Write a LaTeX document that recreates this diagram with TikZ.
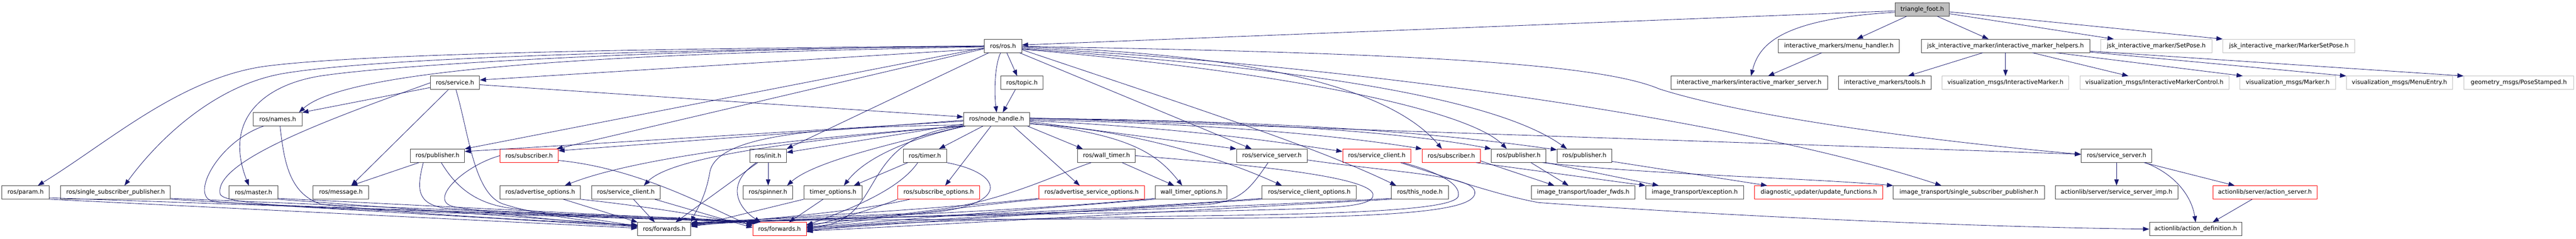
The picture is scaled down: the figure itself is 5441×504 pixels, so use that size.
\documentclass[tikz,border=0pt]{standalone}
\usepackage{fontspec}
\setmainfont{DejaVu Sans}
\usetikzlibrary{arrows.meta}
\definecolor{edgec}{HTML}{191970}
\definecolor{boxc}{HTML}{404040}
\definecolor{extc}{HTML}{BFBFBF}
\newcommand\nodefont{\fontsize{12.6}{14}\selectfont}
\begin{document}
\begin{tikzpicture}[x=1pt,y=-1pt,
  box/.style={draw=boxc, line width=1pt, minimum height=28pt, inner sep=0pt, font=\nodefont, text=black},
  redbox/.style={box, draw=red},
  extbox/.style={box, draw=extc},
  rootbox/.style={box, fill=extc},
  e/.style={draw=edgec, line width=0.9pt, -{Triangle[length=13pt,width=9.5pt]}}]
\useasboundingbox (0,0) rectangle (5441,504);
\fill[white] (0,0) rectangle (5441,504);
% row 0
\node[rootbox, minimum width=114pt] (n0) at (4060,20) {triangle\_foot.h};
% row 1
\node[box, minimum width=79pt] (n1) at (2118.5,97) {ros/ros.h};
\node[box, minimum width=256pt] (n2) at (3884,97) {interactive\_markers/menu\_handler.h};
\node[box, minimum width=356pt] (n3) at (4236,97) {jsk\_interactive\_marker/interactive\_marker\_helpers.h};
\node[extbox, minimum width=235pt] (n4) at (4554.5,97) {jsk\_interactive\_marker/SetPose.h};
\node[extbox, minimum width=279pt] (n5) at (4834.5,97) {jsk\_interactive\_marker/MarkerSetPose.h};
% row 2
\node[box, minimum width=104pt] (n6) at (961,175) {ros/service.h};
\node[box, minimum width=89pt] (n7) at (2158.5,175) {ros/topic.h};
\node[box, minimum width=331pt] (n8) at (3694.5,175) {interactive\_markers/interactive\_marker\_server.h};
\node[box, minimum width=196pt] (n9) at (3981,175) {interactive\_markers/tools.h};
\node[extbox, minimum width=268pt] (n10) at (4236,175) {visualization\_msgs/InteractiveMarker.h};
\node[extbox, minimum width=315pt] (n11) at (4550.5,175) {visualization\_msgs/InteractiveMarkerControl.h};
\node[extbox, minimum width=202pt] (n12) at (4832,175) {visualization\_msgs/Marker.h};
\node[extbox, minimum width=224pt] (n13) at (5068,175) {visualization\_msgs/MenuEntry.h};
\node[extbox, minimum width=232pt] (n14) at (5320,175) {geometry\_msgs/PoseStamped.h};
% row 3
\node[box, minimum width=103pt] (n15) at (586.5,252) {ros/names.h};
\node[box, minimum width=140pt] (n16) at (2105,252) {ros/node\_handle.h};
% row 4
\node[box, minimum width=114pt] (n17) at (924,329) {ros/publisher.h};
\node[redbox, minimum width=123pt] (n18) at (1117.5,329) {ros/subscriber.h};
\node[box, minimum width=77pt] (n19) at (1622.5,329) {ros/init.h};
\node[box, minimum width=91pt] (n20) at (1953.5,329) {ros/timer.h};
\node[box, minimum width=122pt] (n21) at (2337,329) {ros/wall\_timer.h};
\node[box, minimum width=149pt] (n22) at (2686.5,329) {ros/service\_server.h};
\node[redbox, minimum width=144pt] (n23) at (2908,329) {ros/service\_client.h};
\node[redbox, minimum width=123pt] (n24) at (3065.5,329) {ros/subscriber.h};
\node[box, minimum width=115pt] (n25) at (3207.5,329) {ros/publisher.h};
\node[box, minimum width=115pt] (n26) at (3346.5,329) {ros/publisher.h};
\node[box, minimum width=149pt] (n27) at (4470.5,329) {ros/service\_server.h};
% row 5
\node[box, minimum width=100pt] (n28) at (54,406.5) {ros/param.h};
\node[box, minimum width=232pt] (n29) at (244,406.5) {ros/single\_subscriber\_publisher.h};
\node[box, minimum width=103pt] (n30) at (535.5,406.5) {ros/master.h};
\node[box, minimum width=118pt] (n31) at (720,406.5) {ros/message.h};
\node[box, minimum width=170pt] (n32) at (1141,406.5) {ros/advertise\_options.h};
\node[box, minimum width=144pt] (n33) at (1322,406.5) {ros/service\_client.h};
\node[box, minimum width=104pt] (n34) at (1622,406.5) {ros/spinner.h};
\node[box, minimum width=123pt] (n35) at (1759.5,406.5) {timer\_options.h};
\node[redbox, minimum width=173pt] (n36) at (1982.5,406.5) {ros/subscribe\_options.h};
\node[redbox, minimum width=223pt] (n37) at (2305.5,406.5) {ros/advertise\_service\_options.h};
\node[box, minimum width=152pt] (n38) at (2516,406.5) {wall\_timer\_options.h};
\node[box, minimum width=199pt] (n39) at (2765.5,406.5) {ros/service\_client\_options.h};
\node[box, minimum width=120pt] (n40) at (2999,406.5) {ros/this\_node.h};
\node[box, minimum width=218pt] (n41) at (3344,406.5) {image\_transport/loader\_fwds.h};
\node[box, minimum width=207pt] (n42) at (3579.5,406.5) {image\_transport/exception.h};
\node[redbox, minimum width=271pt] (n43) at (3841.5,406.5) {diagnostic\_updater/update\_functions.h};
\node[box, minimum width=319pt] (n44) at (4158.5,406.5) {image\_transport/single\_subscriber\_publisher.h};
\node[box, minimum width=259pt] (n45) at (4470.5,406.5) {actionlib/server/service\_server\_imp.h};
\node[redbox, minimum width=220pt] (n46) at (4784,406.5) {actionlib/server/action\_server.h};
% row 6
\node[box, minimum width=112pt] (n47) at (1403,484) {ros/forwards.h};
\node[redbox, minimum width=113pt] (n48) at (1646.5,484) {ros/forwards.h};
\node[box, minimum width=195pt] (n49) at (4637.5,484) {actionlib/action\_definition.h};

% ---------- edges: top part
\draw[e] ([yshift=-3pt]n0.west) -- ([yshift=2pt]n1.east);
\draw[e] ([yshift=-6pt]n0.west) .. controls (3760,40) and (3715,95) .. ([xshift=4pt]n8.north);
\draw[e] ([xshift=-33pt]n0.south) -- ([xshift=38pt]n2.north);
\draw[e] ([xshift=-36pt]n2.south) -- ([xshift=40pt]n8.north);
\draw[e] ([xshift=32pt]n0.south) -- ([xshift=-36pt]n3.north);
\draw[e] ([yshift=-9pt]n0.east) -- ([xshift=-90pt]n4.north);
\draw[e] ([yshift=-5pt]n0.east) -- (n5.north west);
\draw[e] ([xshift=-48pt]n3.south) -- ([xshift=49pt]n9.north);
\draw[e] (n3.south) -- (n10.north);
\draw[e] ([xshift=57pt]n3.south) -- ([xshift=-55pt]n11.north);
\draw[e] ([xshift=107pt]n3.south) -- ([xshift=-95pt]n12.north);
\draw[e] ([yshift=-13pt]n3.east) -- (n13.north west);
\draw[e] ([yshift=-11pt]n3.east) -- (n14.north west);

% ---------- ros.h
\draw[e] ([xshift=8pt]n1.south) -- ([xshift=-10pt]n7.north);
\draw[e] ([xshift=-5pt]n1.south) .. controls (2100,140) and (2100,200) .. (n16.north);
\draw[e] ([xshift=-14pt]n7.south) -- ([xshift=13pt]n16.north);
\draw[e] ([yshift=-6pt]n1.west) -- ([yshift=6pt]n6.east);
\draw[e] ([yshift=-2pt]n1.west) .. controls (1500,110) and (750,130) .. ([xshift=45pt]n15.north);
\draw[e] (n1.west) .. controls (1400,105) and (850,135) .. (680,160) .. controls (560,178) and (470,250) .. ([xshift=-10pt]n30.north);
\draw[e] (n1.west) .. controls (1300,103) and (750,115) .. (560,140) .. controls (380,165) and (230,300) .. ([xshift=26pt]n28.north);
\draw[e] ([yshift=-1pt]n1.west) .. controls (1300,106) and (780,125) .. (600,155) .. controls (450,180) and (330,300) .. ([xshift=19pt]n29.north);
\draw[e] ([yshift=-4pt]n1.west) -- (n17.north east);
\draw[e] ([yshift=-6pt]n1.west) -- ([xshift=-4pt]n18.north east);
\draw[e] ([xshift=-30pt]n1.south) -- (n19.north east);
\draw[e] ([xshift=-5pt]n1.south east) -- ([xshift=-43pt]n22.north);
\draw[e] ([yshift=-8pt]n1.east) .. controls (2500,220) and (2780,310) .. ([xshift=-50pt]n40.north);
\draw[e] ([yshift=-2pt]n1.east) .. controls (2700,115) and (2950,200) .. ([xshift=-20pt]n24.north);
\draw[e] ([yshift=-4pt]n1.east) .. controls (2900,140) and (3700,260) .. ([xshift=-58pt]n44.north);
\draw[e] ([yshift=-6pt]n1.east) .. controls (2700,140) and (3150,200) .. ([xshift=-37pt]n26.north);
\draw[e] ([yshift=-7pt]n1.east) .. controls (2700,150) and (3100,230) .. ([xshift=-25pt]n25.north);
\draw[e] ([yshift=-1pt]n1.east) .. controls (3000,112) and (3380,135) .. (3505,188) .. controls (3700,250) and (4100,300) .. ([yshift=3pt]n27.west);

% ---------- service.h
\draw[e] ([yshift=-10pt]n6.west) -- (n15.north east);
\draw[e] ([xshift=-14pt]n6.south) -- ([xshift=22pt]n31.north);
\draw[e] ([yshift=-4pt]n6.east) -- ([yshift=5pt]n16.west);

% ---------- node_handle.h left
\draw[e] ([yshift=-4pt]n16.west) -- ([yshift=9pt]n17.east);
\draw[e] ([yshift=-2pt]n16.west) -- ([yshift=-4pt]n18.north east);
\draw[e] (n16.south west) .. controls (1700,290) and (1350,330) .. ([xshift=52pt]n32.north);
\draw[e] ([yshift=1pt]n16.south west) .. controls (1700,295) and (1420,330) .. ([xshift=38pt]n33.north);
\draw[e] ([yshift=-10pt]n16.west) -- ([yshift=7pt]n19.east);
\draw[e] (n16.south west) .. controls (1900,300) and (1720,340) .. ([xshift=-12pt]n34.north east);
\draw[e] ([xshift=-29pt]n16.south) -- ([xshift=30pt]n20.north);
\draw[e] ([xshift=5pt]n16.south west) .. controls (1930,290) and (1830,330) .. ([xshift=23pt]n35.north);
\draw[e] ([xshift=-12pt]n16.south) -- ([xshift=14pt]n36.north);
\draw[e] ([xshift=-35pt]n16.south east) -- ([xshift=-25pt]n37.north);
\draw[e] ([xshift=-5pt]n16.south east) -- ([xshift=-50pt]n21.north);
\draw[e] ([yshift=-12pt]n16.west) .. controls (1700,268) and (1520,290) .. (1500,360) .. controls (1490,420) and (1470,445) .. (n47.north east);
\draw[e] (n16.south west) .. controls (1800,290) and (1880,470) .. ([yshift=3pt]n48.east);
% node_handle.h right
\draw[e] ([yshift=-8pt]n16.east) .. controls (2380,285) and (2440,320) .. ([xshift=-19pt]n38.north);
\draw[e] ([yshift=-5pt]n16.east) -- (n22.north west);
\draw[e] ([yshift=-10pt]n16.east) .. controls (2350,270) and (2550,320) .. ([xshift=-58pt]n39.north);
\draw[e] ([yshift=-3pt]n16.east) .. controls (2500,270) and (2700,300) .. ([yshift=9pt]n23.west);
\draw[e] ([yshift=-1pt]n16.east) .. controls (2600,262) and (2850,290) .. (n24.north west);
\draw[e] ([yshift=1pt]n16.east) .. controls (2700,256) and (3000,285) .. (n25.north west);
\draw[e] ([yshift=2pt]n16.east) .. controls (2800,256) and (3100,290) .. ([yshift=-2pt]n26.north west);
\draw[e] ([yshift=3pt]n16.east) .. controls (2800,272) and (3800,305) .. ([yshift=3pt]n27.west);

% ---------- into forwards.h from the left
\draw[e] (n28.south east) -- ([yshift=2pt]n47.west);
\draw[e] ([yshift=3pt]n28.south east) -- ([xshift=5pt]n48.north west);
\draw[e] (n29.south east) -- ([yshift=5pt]n47.west);
\draw[e] ([yshift=2pt]n29.south east) -- ([xshift=8pt]n48.north west);
\draw[e] (n30.south east) -- ([yshift=7pt]n47.west);
\draw[e] ([yshift=2pt]n30.south east) -- ([xshift=10pt]n48.north west);
\draw[e] ([xshift=5pt]n15.south) .. controls (600,340) and (610,410) .. (680,432) .. controls (900,455) and (1200,470) .. ([yshift=9pt]n47.west);
\draw[e] ([xshift=-30pt]n15.south) .. controls (460,300) and (400,415) .. (450,425) .. controls (520,436) and (1300,455) .. ([xshift=12pt]n48.north west);
\draw[e] ([xshift=2pt]n6.south) .. controls (990,280) and (1000,405) .. (1060,430) .. controls (1150,460) and (1280,470) .. ([yshift=4pt]n47.west);
\draw[e] (n6.west) .. controls (700,250) and (450,340) .. (465,410) .. controls (475,440) and (800,445) .. ([xshift=14pt]n48.north west);
\draw[e] ([xshift=-39pt]n17.south) -- ([xshift=22pt]n31.north);
\draw[e] ([xshift=8pt]n17.south) .. controls (960,390) and (1000,430) .. (1080,440) .. controls (1200,455) and (1300,470) .. ([yshift=6pt]n47.west);
\draw[e] ([xshift=-30pt]n17.south) .. controls (880,400) and (880,430) .. (940,440) .. controls (1200,455) and (1450,458) .. ([xshift=16pt]n48.north west);
\draw[e] (n18.west) .. controls (980,350) and (900,425) .. (960,437) .. controls (1100,460) and (1250,472) .. ([yshift=8pt]n47.west);
\draw[e] ([yshift=-10pt]n18.east) .. controls (1350,355) and (1500,440) .. ([yshift=6pt]n48.west);
\draw[e] ([xshift=49pt]n32.south) -- (n47.north west);
\draw[e] (n32.south east) .. controls (1400,440) and (1500,460) .. ([yshift=9pt]n48.west);
\draw[e] ([xshift=16pt]n33.south) -- ([xshift=-20pt]n47.north);
\draw[e] ([xshift=61pt]n33.south) -- ([yshift=3pt]n48.west);
% init
\draw[e] (n19.south) -- ([xshift=0.5pt]n34.north);
\draw[e] ([xshift=-22pt]n19.south) -- ([xshift=24pt]n47.north);
\draw[e] ([xshift=-25pt]n19.south) .. controls (1530,390) and (1560,440) .. ([xshift=-40pt]n48.north);
% timer
\draw[e] ([xshift=-36pt]n20.south) -- ([xshift=44pt]n35.north);
\draw[e] ([xshift=-15pt]n20.south) .. controls (1900,400) and (1800,440) .. ([yshift=8pt]n48.east);
\draw[e] (n20.south east) .. controls (2140,370) and (2130,450) .. (1900,452) .. controls (1700,460) and (1550,465) .. ([yshift=-1pt]n47.north east);
% from the right into forwards.h
\draw[e] (n35.south west) -- ([yshift=5pt]n47.east);
\draw[e] ([xshift=-21pt]n35.south) -- ([xshift=20pt]n48.north);
\draw[e] (n36.south west) .. controls (1850,440) and (1750,470) .. ([yshift=6pt]n48.east);
\draw[e] ([xshift=26pt]n36.south west) .. controls (1800,450) and (1600,462) .. ([yshift=6pt]n47.east);
\draw[e] (n37.south west) .. controls (2000,440) and (1800,470) .. ([yshift=4pt]n48.east);
\draw[e] ([yshift=2pt]n37.south west) .. controls (1900,450) and (1600,460) .. ([yshift=9pt]n47.east);
% wall timer
\draw[e] ([xshift=33pt]n21.south) -- ([xshift=-36pt]n38.north);
\draw[e] ([xshift=-32pt]n21.south) .. controls (2240,365) and (2130,420) .. (2000,440) .. controls (1850,460) and (1760,470) .. ([yshift=10pt]n48.east);
\draw[e] (n21.east) .. controls (2600,345) and (2890,370) .. (2900,410) .. controls (2905,440) and (2800,440) .. (2600,445) .. controls (2100,455) and (1600,462) .. ([yshift=11pt]n47.east);
\draw[e] (n38.south west) .. controls (2200,440) and (1850,468) .. ([yshift=2pt]n48.east);
\draw[e] ([yshift=2pt]n38.south west) .. controls (2100,452) and (1650,462) .. ([yshift=8pt]n47.east);
% service server
\draw[e] ([xshift=-8pt]n22.south) .. controls (2640,400) and (2620,425) .. (2550,432) .. controls (2200,450) and (1850,470) .. (n48.east);
\draw[e] ([yshift=-9pt]n22.east) .. controls (2950,365) and (3110,370) .. (3115,405) .. controls (3120,440) and (3000,455) .. (2700,460) .. controls (2200,465) and (1700,462) .. ([yshift=13pt]n47.east);
\draw[e] (n39.south west) .. controls (2300,445) and (1900,472) .. ([yshift=-2pt]n48.east);
\draw[e] ([yshift=2pt]n39.south west) .. controls (2200,455) and (1700,463) .. ([yshift=12pt]n47.east);
\draw[e] (n40.south west) .. controls (2500,445) and (2000,474) .. ([yshift=-4pt]n48.east);
\draw[e] ([yshift=2pt]n40.south west) .. controls (2400,450) and (1580,465) .. ([yshift=10pt]n47.east);
% service client (red)
\draw[e] ([xshift=55pt]n23.south) .. controls (3060,370) and (3085,395) .. (3080,415) .. controls (3070,440) and (2900,450) .. (2600,455) .. controls (2100,462) and (1800,470) .. ([yshift=-6pt]n48.east);
\draw[e] ([xshift=50pt]n23.south) .. controls (3100,390) and (3180,415) .. (3250,428) .. controls (3700,460) and (4200,480) .. (n49.west);

% ---------- image_transport / diagnostic_updater
\draw[e] ([yshift=-11pt]n24.east) -- ([xshift=-61pt]n41.north);
\draw[e] ([xshift=-10pt]n24.south east) -- (n42.north west);
\draw[e] ([xshift=26pt]n25.south) -- ([xshift=-31pt]n41.north);
\draw[e] (n25.south east) -- ([xshift=-76pt]n42.north);
\draw[e] ([xshift=-8pt]n25.south east) .. controls (3500,370) and (3800,375) .. (n44.north west);
\draw[e] ([yshift=-12pt]n26.east) -- ([xshift=-109pt]n43.north);

% ---------- actionlib
\draw[e] (n27.south) -- (n45.north);
\draw[e] ([xshift=58pt]n27.south) -- ([xshift=-64pt]n46.north);
\draw[e] ([xshift=60pt]n27.south) .. controls (4600,370) and (4630,420) .. (n49.north);
\draw[e] ([xshift=-27pt]n46.south) -- ([xshift=36pt]n49.north);
\end{tikzpicture}
\end{document}
